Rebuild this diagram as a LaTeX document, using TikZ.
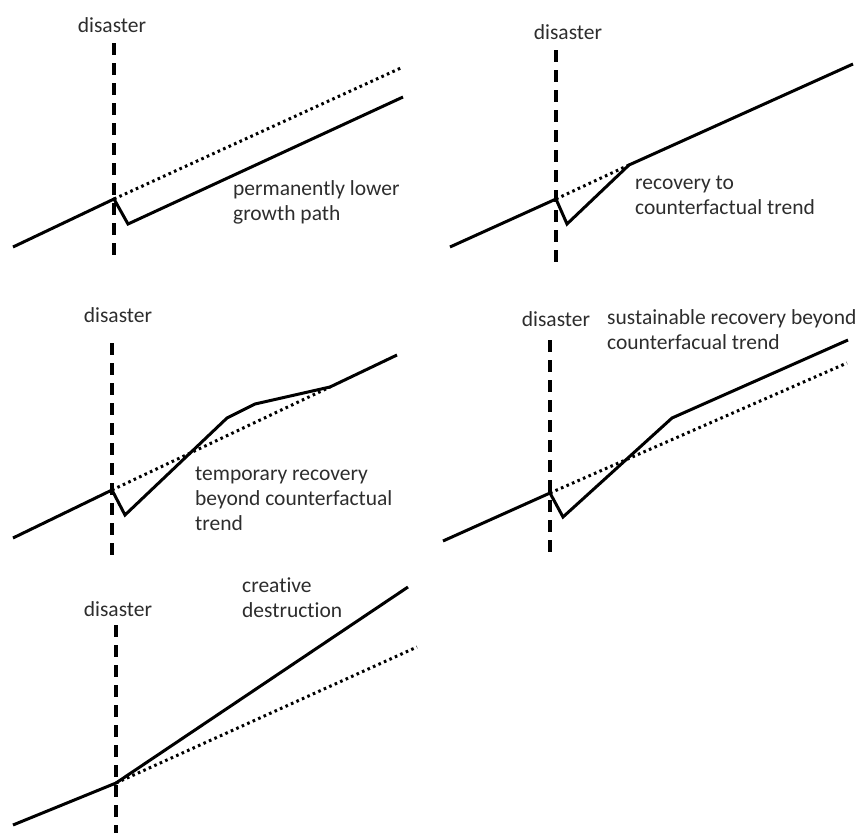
\documentclass[tikz,border=0pt]{standalone}
\usepackage{fontspec}
\setmainfont[Ligatures=NoCommon]{Carlito}
\usepackage{xcolor}
\usepackage{tikz}
\usetikzlibrary{positioning}
\definecolor{textgray}{RGB}{45,45,45}
\tikzset{
  growth path/.style={
    draw=black,
    line width=3pt,
    line join=miter
  },
  trend line/.style={
    draw=black,
    line width=3pt,
    dash pattern=on 2.6pt off 3.4pt
  },
  disaster line/.style={
    draw=black,
    line width=3.4pt,
    dash pattern=on 12pt off 8pt
  },
  disaster label/.style={
    anchor=base,
    inner sep=0pt,
    text=textgray,
    font=\fontsize{21.5}{25}\selectfont
  },
  panel label/.style={
    disaster label,
    anchor=north west,
    align=left
  }
}

\begin{document}
\begin{tikzpicture}[x=1pt,y=-1pt]
  \useasboundingbox (0,0) rectangle (860,833);

  % disaster markers
  \foreach \n/\xl/\yl/\xd/\ya/\yb in {1/112/32/114/43/255, 2/568/39/556/50/263,
      3/118/322/112/343/560, 4/556/326/550/340/557, 5/118/616/116/625/833} {
    \node[disaster label] (dis\n) at (\xl,\yl) {disaster};
    \coordinate (dtop\n) at (\xd,\ya);
    \coordinate (dbot\n) at (\xd,\yb);
    \draw[disaster line] (dtop\n) -- (dbot\n);
  }

  % Panel 1: permanently lower
  \coordinate (p1start) at (13,247);
  \coordinate (p1hit) at (114,199);
  \coordinate (p1low) at (128,224);
  \coordinate (p1end) at (403,97);
  \coordinate (p1trend) at (403,67);
  \draw[trend line] (p1hit) -- (p1trend);
  \draw[growth path] (p1start) -- (p1hit) -- (p1low) -- (p1end);
  \node[panel label] (lbl1) at (233,180) {permanently lower\\growth path};

  % Panel 2: back to trend
  \coordinate (p2start) at (450,247);
  \coordinate (p2hit) at (556,199);
  \coordinate (p2low) at (567,224);
  \coordinate (p2meet) at (629,165);
  \coordinate (p2end) at (853,64);
  \draw[trend line] (p2hit) -- (p2meet);
  \draw[growth path] (p2start) -- (p2hit) -- (p2low) -- (p2meet) -- (p2end);
  \node[panel label] (lbl2) at (635,176) {recovery to\\counterfactual trend};

  % Panel 3: temporary overshoot
  \coordinate (p3start) at (13,538);
  \coordinate (p3hit) at (112,490);
  \coordinate (p3low) at (125,515);
  \coordinate (p3up) at (227,418);
  \coordinate (p3bend) at (255,404);
  \coordinate (p3meet) at (330,387);
  \coordinate (p3end) at (397,355);
  \draw[trend line] (p3hit) -- (p3meet);
  \draw[growth path] (p3start) -- (p3hit) -- (p3low) -- (p3up) -- (p3bend)
    -- (p3meet) -- (p3end);
  \node[panel label] (lbl3) at (195,467) {temporary recovery\\beyond counterfactual\\trend};

  % Panel 4: sustained overshoot
  \coordinate (p4start) at (443,541);
  \coordinate (p4hit) at (550,493);
  \coordinate (p4low) at (563,517);
  \coordinate (p4up) at (672,418);
  \coordinate (p4end) at (848,340);
  \coordinate (p4trend) at (847,363);
  \draw[trend line] (p4hit) -- (p4trend);
  \draw[growth path] (p4start) -- (p4hit) -- (p4low) -- (p4up) -- (p4end);
  \node[panel label] (lbl4) at (607,309) {sustainable recovery beyond\\counterfacual trend};

  % Panel 5: creative destruction
  \coordinate (p5start) at (13,825);
  \coordinate (p5hit) at (116,783);
  \coordinate (p5end) at (408,587);
  \coordinate (p5trend) at (417,647);
  \draw[trend line] (p5hit) -- (p5trend);
  \draw[growth path] (p5start) -- (p5hit) -- (p5end);
  \node[panel label] (lbl5) at (242,578) {creative\\destruction};
\end{tikzpicture}
\end{document}
